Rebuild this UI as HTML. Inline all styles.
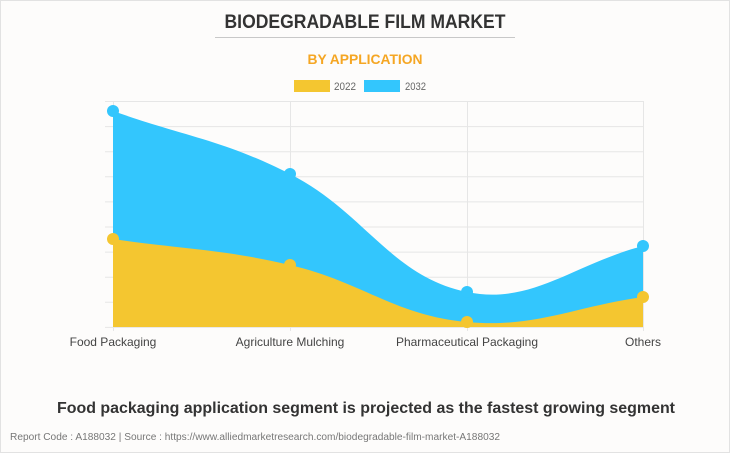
<!DOCTYPE html>
<html><head><style>
html,body{margin:0;padding:0;background:#fff;}
svg{display:block;}
</style></head><body>
<svg id="s" width="730" height="453" xmlns="http://www.w3.org/2000/svg" font-family="'Liberation Sans', Arial, sans-serif">
<rect x="0.5" y="0.5" width="729" height="452" fill="#fdfcfb" stroke="#e2e2e2"/>
<text x="365" y="28" text-anchor="middle" font-size="19" font-weight="bold" fill="#333" textLength="281" lengthAdjust="spacingAndGlyphs">BIODEGRADABLE FILM MARKET</text>
<line x1="215" y1="37.5" x2="515" y2="37.5" stroke="#c8c8c8" stroke-width="1"/>
<text x="365" y="64" text-anchor="middle" font-size="14" font-weight="bold" fill="#f5a623" textLength="115" lengthAdjust="spacingAndGlyphs">BY APPLICATION</text>
<rect x="294" y="80" width="36" height="12" fill="#f4c630"/>
<text x="334" y="90" font-size="11" fill="#666" textLength="22" lengthAdjust="spacingAndGlyphs">2022</text>
<rect x="364" y="80" width="36" height="12" fill="#33c6fd"/>
<text x="405" y="90" font-size="11" fill="#666" textLength="21" lengthAdjust="spacingAndGlyphs">2032</text>
<g id="grid" stroke="#e6e6e6" stroke-width="1"></g>
<g id="areas"></g>
<g font-size="12" fill="#444" text-anchor="middle">
<text x="113" y="346">Food Packaging</text>
<text x="290" y="346">Agriculture Mulching</text>
<text x="467" y="346">Pharmaceutical Packaging</text>
<text x="643" y="346">Others</text>
</g>
<text x="366" y="413" text-anchor="middle" font-size="16" font-weight="bold" fill="#333" textLength="618" lengthAdjust="spacingAndGlyphs">Food packaging application segment is projected as the fastest growing segment</text>
<text x="10" y="440" font-size="10" fill="#777" textLength="490" lengthAdjust="spacingAndGlyphs">Report Code : A188032  |  Source : https://www.alliedmarketresearch.com/biodegradable-film-market-A188032</text>
</svg>
<script>
var NS="http://www.w3.org/2000/svg";
var g=document.getElementById('grid');
function ln(x1,y1,x2,y2){var l=document.createElementNS(NS,'line');l.setAttribute('x1',x1);l.setAttribute('y1',y1);l.setAttribute('x2',x2);l.setAttribute('y2',y2);g.appendChild(l);}
for(var i=0;i<10;i++){var y=101.5+i*25.1;ln(105,y,643,y);}
[113,290,467,643].forEach(function(x){ln(x+.5,101,x+.5,331);});
function path(pts){var t=0.4,cps=[];
for(var i=0;i<pts.length;i++){var p=pts[i],pr=pts[i-1]||p,nx=pts[i+1]||p;
var d01=Math.hypot(p[0]-pr[0],p[1]-pr[1]),d12=Math.hypot(nx[0]-p[0],nx[1]-p[1]);
var s=d01+d12||1,fa=t*d01/s,fb=t*d12/s;
cps.push([[p[0]-fa*(nx[0]-pr[0]),p[1]-fa*(nx[1]-pr[1])],[p[0]+fb*(nx[0]-pr[0]),p[1]+fb*(nx[1]-pr[1])]]);}
var d='M'+pts[0][0]+','+pts[0][1];
for(var i=1;i<pts.length;i++){var a=cps[i-1][1],b=cps[i][0];d+=' C'+a[0]+','+a[1]+' '+b[0]+','+b[1]+' '+pts[i][0]+','+pts[i][1];}
return d;}
var A=document.getElementById('areas');
function area(pts,col){var p=document.createElementNS(NS,'path');
p.setAttribute('d',path(pts)+' L'+pts[pts.length-1][0]+',327 L'+pts[0][0]+',327 Z');p.setAttribute('fill',col);A.appendChild(p);}
var blue=[[113,111],[290,174],[467,292],[643,246]],yel=[[113,239],[290,265],[467,322],[643,297]];
area(blue,'#33c6fd');area(yel,'#f4c630');
function dots(pts,col){pts.forEach(function(q){var c=document.createElementNS(NS,'circle');c.setAttribute('cx',q[0]);c.setAttribute('cy',q[1]);c.setAttribute('r',6);c.setAttribute('fill',col);A.appendChild(c);});}
dots(blue,'#33c6fd');dots(yel,'#f4c630');
</script>
</body></html>
